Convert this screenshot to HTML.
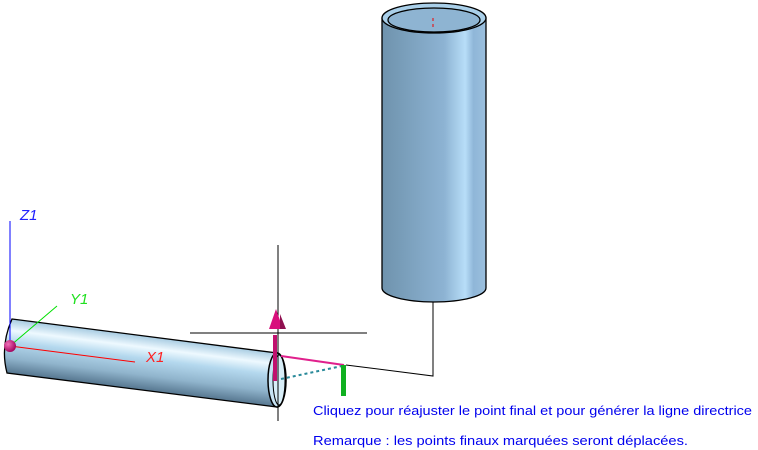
<!DOCTYPE html>
<html><head><meta charset="utf-8"><style>
html,body{margin:0;padding:0;background:#fff;}
svg{display:block;}
text{font-family:"Liberation Sans",sans-serif;}
</style></head><body>
<svg width="758" height="450" viewBox="0 0 758 450" xmlns="http://www.w3.org/2000/svg">
<defs>
<linearGradient id="vg" x1="0" y1="0" x2="1" y2="0">
<stop offset="0" stop-color="#6f93ad"/>
<stop offset="0.6" stop-color="#8db3d3"/>
<stop offset="0.8" stop-color="#b8def8"/>
<stop offset="0.88" stop-color="#8fb6d8"/>
<stop offset="1" stop-color="#9cc0de"/>
</linearGradient>
<linearGradient id="hg" gradientUnits="userSpaceOnUse" x1="143" y1="336" x2="136" y2="391">
<stop offset="0" stop-color="#a8cce2"/>
<stop offset="0.2" stop-color="#eef9ff"/>
<stop offset="0.4" stop-color="#b4d8ee"/>
<stop offset="0.7" stop-color="#90b4cc"/>
<stop offset="1" stop-color="#4f6f88"/>
</linearGradient>
<radialGradient id="ball" cx="0.35" cy="0.35" r="0.7">
<stop offset="0" stop-color="#f070b8"/><stop offset="1" stop-color="#a0005a"/>
</radialGradient>
</defs>
<!-- vertical cylinder -->
<path d="M382,18 L382,288 A52,14 0 0 0 486,288 L486,18 Z" fill="url(#vg)" stroke="#000" stroke-width="1.3"/>
<ellipse cx="434" cy="18" rx="52" ry="15" fill="#a9cfe9" stroke="#000" stroke-width="1.3"/>
<ellipse cx="434" cy="20" rx="46" ry="12" fill="#8eb4d2" stroke="#000" stroke-width="1.3"/>
<line x1="433" y1="18" x2="433" y2="30" stroke="#e00" stroke-dasharray="3,3"/>
<!-- connector lines -->
<polyline points="433,302 433,376 346,365" fill="none" stroke="#000" stroke-width="1"/>
<!-- horizontal cylinder -->
<path d="M12,319 L277,353 L277,407 L7,373 Q0,346 12,319 Z" fill="url(#hg)" stroke="#000" stroke-width="1.3"/>
<ellipse cx="277" cy="380" rx="9" ry="27" fill="#c8e4f4" stroke="#000" stroke-width="1.5"/>
<ellipse cx="279" cy="380" rx="6" ry="25" fill="#d8eef8" stroke="#000" stroke-width="1"/>
<!-- crosshair -->
<line x1="278" y1="245" x2="278" y2="421" stroke="#000" stroke-width="1"/>
<line x1="190" y1="333" x2="367" y2="333" stroke="#000" stroke-width="1"/>
<!-- magenta arrow -->
<rect x="273" y="335" width="4" height="46" fill="#c0106e"/>
<polygon points="276,309 269,329 283,329" fill="#d8107c"/>
<polygon points="280,314 286,329 280,329" fill="#901050"/>
<line x1="281" y1="356" x2="344" y2="365" stroke="#e0208c" stroke-width="2"/>
<line x1="281" y1="379" x2="342" y2="366" stroke="#2a8a9a" stroke-width="2" stroke-dasharray="3,3"/>
<rect x="341" y="365" width="5" height="31" fill="#10b020"/>
<!-- axes -->
<line x1="10" y1="221" x2="10" y2="346" stroke="#0000ff" stroke-width="1"/>
<line x1="10" y1="346" x2="57" y2="306" stroke="#00e000" stroke-width="1"/>
<line x1="10" y1="346" x2="135" y2="362" stroke="#ff0000" stroke-width="1"/>
<circle cx="10" cy="346" r="6" fill="url(#ball)"/>
<text x="20" y="220" font-size="15" font-style="italic" fill="#2020ff">Z1</text>
<text x="70" y="304" font-size="15" font-style="italic" fill="#20e020">Y1</text>
<text x="146" y="362" font-size="15" font-style="italic" fill="#ff2020">X1</text>
<!-- messages -->
<text x="313" y="415" font-size="12.8" fill="#0000ee" textLength="439" lengthAdjust="spacingAndGlyphs">Cliquez pour réajuster le point final et pour générer la ligne directrice</text>
<text x="313" y="445" font-size="12.8" fill="#0000ee" textLength="375" lengthAdjust="spacingAndGlyphs">Remarque : les points finaux marquées seront déplacées.</text>
</svg>
</body></html>
